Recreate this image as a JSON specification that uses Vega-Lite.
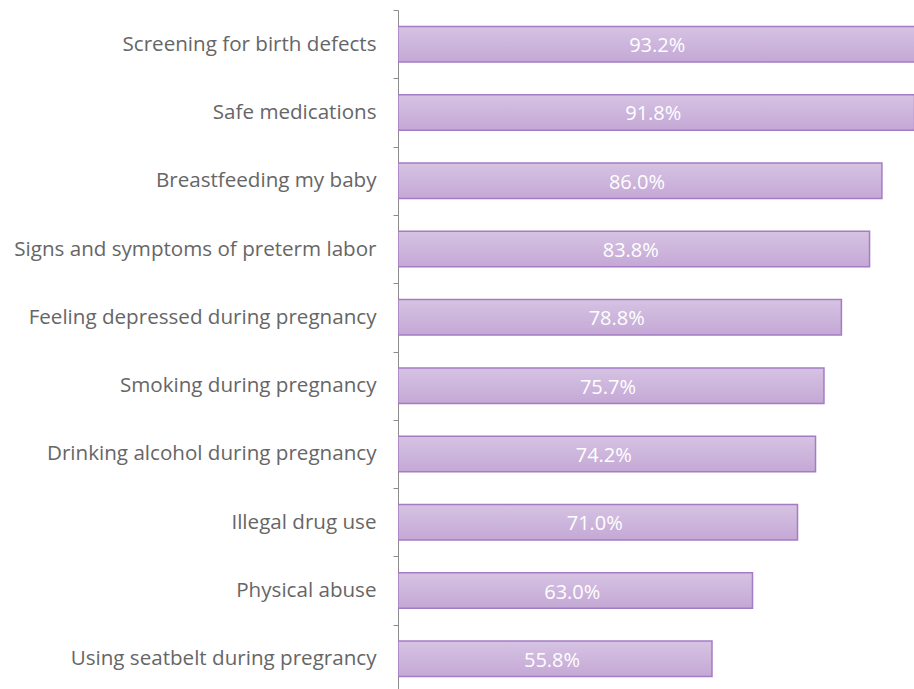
{
  "$schema": "https://vega.github.io/schema/vega-lite/v6.json",
  "autosize": "none",
  "width": 516,
  "height": 683,
  "padding": {"left": 398, "top": 10, "right": 0, "bottom": 0},
  "background": "white",
  "config": {"view": {"stroke": null}, "font": "Open Sans"},
  "data": {
    "values": [
      {"topic": "Screening for birth defects", "pct": 93.2},
      {"topic": "Safe medications", "pct": 91.8},
      {"topic": "Breastfeeding my baby", "pct": 86.0},
      {"topic": "Signs and symptoms of preterm labor", "pct": 83.8},
      {"topic": "Feeling depressed during pregnancy", "pct": 78.8},
      {"topic": "Smoking during pregnancy", "pct": 75.7},
      {"topic": "Drinking alcohol during pregnancy", "pct": 74.2},
      {"topic": "Illegal drug use", "pct": 71.0},
      {"topic": "Physical abuse", "pct": 63.0},
      {"topic": "Using seatbelt during pregrancy", "pct": 55.8}
    ]
  },
  "transform": [
    {"calculate": "datum.pct / 2", "as": "mid"},
    {"calculate": "format(datum.pct, '.1f') + '%'", "as": "lab"}
  ],
  "encoding": {
    "y": {
      "field": "topic",
      "type": "nominal",
      "sort": null,
      "scale": {"paddingInner": 0.48, "paddingOuter": 0.24},
      "axis": {
        "title": null,
        "tickOffset": -34.15,
        "labelOffset": 34.15,
        "domainColor": "#8c8c8c",
        "tickColor": "#8c8c8c",
        "tickSize": 5,
        "labelPadding": 17,
        "labelFontSize": 20.6,
        "labelColor": "#666666",
        "labelLimit": 500
      }
    }
  },
  "layer": [
    {
      "mark": {
        "type": "bar",
        "clip": true,
        "stroke": "#a57cc4",
        "strokeWidth": 1.5,
        "color": {
          "gradient": "linear",
          "x1": 0, "y1": 0, "x2": 0, "y2": 1,
          "stops": [
            {"offset": 0, "color": "#d6c3e3"},
            {"offset": 1, "color": "#c4a8d5"}
          ]
        }
      },
      "encoding": {
        "x": {
          "field": "pct",
          "type": "quantitative",
          "scale": {"domain": [0, 91.7], "nice": false, "zero": true},
          "axis": null
        }
      }
    },
    {
      "mark": {"type": "text", "color": "white", "fontSize": 20, "align": "center", "baseline": "middle", "dy": 2, "dx": -3},
      "encoding": {
        "x": {"field": "mid", "type": "quantitative", "scale": {"domain": [0, 91.7], "nice": false}},
        "text": {"field": "lab"}
      }
    }
  ]
}
